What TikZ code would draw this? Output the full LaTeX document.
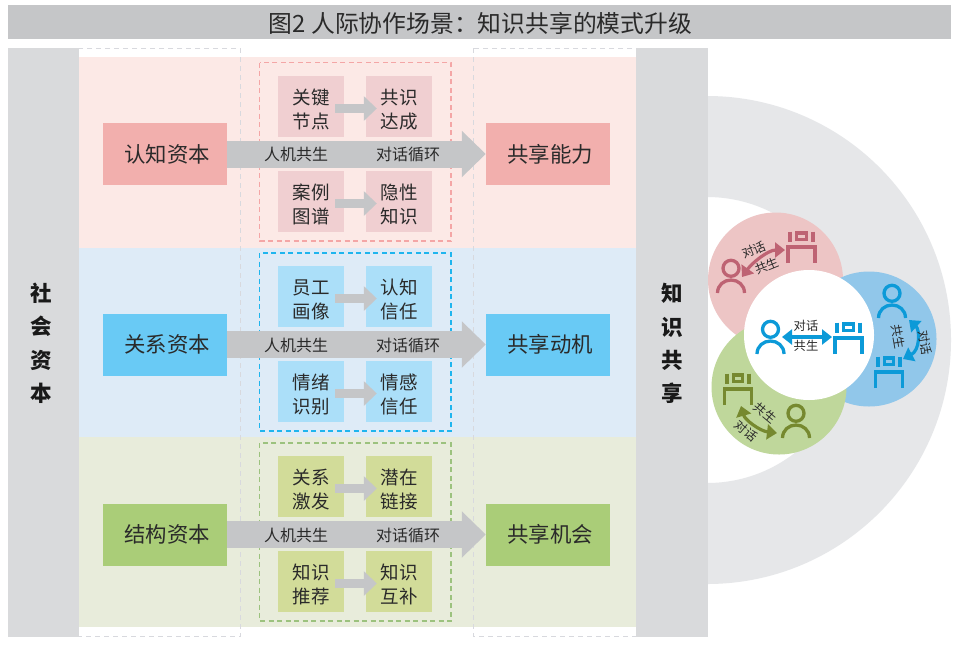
\documentclass[tikz,border=0pt]{standalone}
\usepackage{fontspec}
\setmainfont{Noto Sans CJK SC}
\usetikzlibrary{arrows.meta,calc}
\definecolor{txt}{HTML}{2A2A2A}
\definecolor{grayside}{HTML}{D9DADC}
\definecolor{graybar}{HTML}{C5C6C8}
\definecolor{ringc}{HTML}{E6E7E9}
\definecolor{framegray}{HTML}{D8D9DE}
\definecolor{rowr}{HTML}{FCE9E6}
\definecolor{rowb}{HTML}{DEEBF7}
\definecolor{rowg}{HTML}{E8ECDB}
\definecolor{capr}{HTML}{F2AFAD}
\definecolor{capb}{HTML}{69CAF5}
\definecolor{capg}{HTML}{AACD78}
\definecolor{smr}{HTML}{F0CFD1}
\definecolor{smb}{HTML}{ABDFF9}
\definecolor{smg}{HTML}{D2DC99}
\definecolor{edgered}{HTML}{F4A6A6}
\definecolor{edgeblue}{HTML}{1FB5EE}
\definecolor{edgegreen}{HTML}{9CC27E}
\definecolor{cirr}{HTML}{EDC5C5}
\definecolor{cirb}{HTML}{91C7EA}
\definecolor{cirg}{HTML}{BFD79B}
\definecolor{icr}{HTML}{BE6373}
\definecolor{icb}{HTML}{0C9AD8}
\definecolor{icg}{HTML}{76892F}
\newcommand{\captxt}[1]{\hspace*{4pt}\raisebox{-1.5pt}{#1}}
\newcommand{\twolines}[2]{\rule{0pt}{21.5pt}#1\\#2}
\tikzset{
  capbox/.style={minimum width=124pt,minimum height=62pt,inner sep=0pt,text=txt,font=\fontsize{21.4}{24}\selectfont},
  smbox/.style={minimum width=66pt,minimum height=61pt,inner sep=0pt,text=txt,align=center,font=\fontsize{18.5}{23.5}\selectfont},
  bigarrow/.style={draw=graybar,line width=27pt,-{Triangle[length=24pt,width=45pt]}},
  smarrow/.style={draw=graybar,line width=9pt,-{Triangle[length=13pt,width=24pt]}},
  arrowtxt/.style={inner sep=0pt,text=txt,font=\fontsize{16}{18}\selectfont},
  dashbox/.style={line width=1.1pt,dash pattern=on 5pt off 3.5pt},
  outerdash/.style={draw=framegray,line width=1pt,dash pattern=on 5pt off 4pt},
  sidetxt/.style={inner sep=0pt,text=black!90,font=\fontsize{21.5}{24}\selectfont\bfseries},
  iconline/.style={line width=3.3pt},
  tinytxt/.style={inner sep=0pt,text=txt,font=\fontsize{12.3}{13}\selectfont},
  dbl/.style={line width=3.2pt,{Triangle[length=10pt,width=15pt]}-{Triangle[length=10pt,width=15pt]}},
  pics/person/.style={code={
    \draw[iconline] (0,-24.7) circle (8);
    \draw[iconline] (-13.5,0) .. controls (-13.5,-8) and (-7,-13) .. (0,-13) .. controls (7,-13) and (13.5,-8) .. (13.5,0);
  }},
  pics/robot/.style={code={
    \draw[iconline] (-13.5,0) -- (-13.5,-16) -- (13.5,-16) -- (13.5,0);
    \draw[iconline] (-4.7,-30) rectangle (4.7,-23.7);
    \draw[line width=4pt] (-11.3,-31.5) -- (-11.3,-21.5);
    \draw[line width=4pt] (11.3,-31.5) -- (11.3,-21.5);
  }},
}
\begin{document}
\begin{tikzpicture}[x=1pt,y=-1pt]
\useasboundingbox (0,0) rectangle (960,649);
\fill[white] (0,0) rectangle (960,649);
% title
\fill[graybar] (8,5) rectangle (951,39);
\node[inner sep=0pt,text=txt,font=\fontsize{23.8}{26}\selectfont] (title) at (480.5,23) {图2 人际协作场景：知识共享的模式升级};
% ring
\begin{scope}
\clip (707,80) rectangle (960,600);
\fill[ringc,even odd rule] (707,340) circle (244) (707,340) circle (143);
\end{scope}
% rows
\fill[rowr] (77,57) rectangle (636,248);
\fill[rowb] (77,248) rectangle (636,437);
\fill[rowg] (77,437) rectangle (636,627);
% outer dashed frames
\draw[outerdash] (8,48) rectangle (240.5,636);
\draw[outerdash] (473,48) rectangle (707,636);
% side bars
\fill[grayside] (7.5,47.5) rectangle (79,636.5);
\fill[grayside] (636,47.5) rectangle (707.5,636.5);
\node[sidetxt] (s1) at (41,293) {社};
\node[sidetxt] (s2) at (41,326) {会};
\node[sidetxt] (s3) at (41,360) {资};
\node[sidetxt] (s4) at (41,393) {本};
\node[sidetxt] (k1) at (672,293) {知};
\node[sidetxt] (k2) at (672,327) {识};
\node[sidetxt] (k3) at (672,360) {共};
\node[sidetxt] (k4) at (672,393) {享};
% inner dashed
\draw[dashbox,draw=edgered] (259.5,62.5) rectangle (451,241);
\draw[dashbox,draw=edgeblue] (259.5,253) rectangle (451,431);
\draw[dashbox,draw=edgegreen] (259.5,443) rectangle (451,621);
% row 1
\node[capbox,fill=capr] (a1) at (165,154) {\captxt{认知资本}};
\node[capbox,fill=capr] (b1) at (548,154) {\captxt{共享能力}};
\node[smbox,fill=smr] (a1u) at (311,106.5) {\twolines{关键}{节点}};
\node[smbox,fill=smr] (b1u) at (399,106.5) {\twolines{共识}{达成}};
\node[smbox,fill=smr] (a1d) at (311,201.5) {\twolines{案例}{图谱}};
\node[smbox,fill=smr] (b1d) at (399,201.5) {\twolines{隐性}{知识}};
% row 2
\node[capbox,fill=capb] (a2) at (165,344.5) {\captxt{关系资本}};
\node[capbox,fill=capb] (b2) at (548,344.5) {\captxt{共享动机}};
\node[smbox,fill=smb] (a2u) at (311,296.5) {\twolines{员工}{画像}};
\node[smbox,fill=smb] (b2u) at (399,296.5) {\twolines{认知}{信任}};
\node[smbox,fill=smb] (a2d) at (311,391.5) {\twolines{情绪}{识别}};
\node[smbox,fill=smb] (b2d) at (399,391.5) {\twolines{情感}{信任}};
% row 3
\node[capbox,fill=capg] (a3) at (165,534.5) {\captxt{结构资本}};
\node[capbox,fill=capg] (b3) at (548,534.5) {\captxt{共享机会}};
\node[smbox,fill=smg] (a3u) at (311,486.5) {\twolines{关系}{激发}};
\node[smbox,fill=smg] (b3u) at (399,486.5) {\twolines{潜在}{链接}};
\node[smbox,fill=smg] (a3d) at (311,581.5) {\twolines{知识}{推荐}};
\node[smbox,fill=smg] (b3d) at (399,581.5) {\twolines{知识}{互补}};
% arrows
\foreach \r in {1,2,3}{
  \draw[bigarrow] (a\r.east) -- (b\r.west);
  \node[arrowtxt] at ($(a\r.east)+(69,0.8)$) {人机共生};
  \node[arrowtxt] at ($(a\r.east)+(181,0.8)$) {对话循环};
  \draw[smarrow] ([xshift=-9pt,yshift=-2pt]a\r u.east) -- ([xshift=11pt,yshift=-2pt]b\r u.west);
  \draw[smarrow] ([xshift=-9pt,yshift=-2pt]a\r d.east) -- ([xshift=11pt,yshift=-2pt]b\r d.west);
}
% circles
\fill[cirr] (775.5,280) circle (67.5);
\fill[cirb] (869,339) circle (67.5);
\fill[cirg] (779,387) circle (67.5);
\fill[white] (809,335) circle (65);
% icons
\pic[color=icb] at (770.5,354) {person};
\pic[color=icb] at (848.5,354) {robot};
\pic[color=icr] at (731,293) {person};
\pic[color=icr] at (801.5,263) {robot};
\pic[color=icb] at (892,318) {person};
\pic[color=icb] at (889,388) {robot};
\pic[color=icg] at (738,405) {robot};
\pic[color=icg] at (796,438) {person};
% two-way connectors
\coordinate (c0a) at (782,337); \coordinate (c0b) at (832,337);
\draw[dbl,icb] (c0a) -- (c0b);
\coordinate (c1a) at (742,277); \coordinate (c1b) at (785,250);
\draw[dbl,icr] (c1a) .. controls (752,263) and (768,250) .. (c1b);
\coordinate (c2a) at (909,320); \coordinate (c2b) at (903,359);
\draw[dbl,icb] (c2a) .. controls (920,330) and (920,350) .. (c2b);
\coordinate (c3a) at (741,406); \coordinate (c3b) at (777,433);
\draw[dbl,icg] (c3a) .. controls (745,420) and (760,431) .. (c3b);
% labels
\node[tinytxt] at (806,326) {对话};
\node[tinytxt] at (806,346) {共生};
\node[tinytxt,rotate=22] at (754,250) {对话};
\node[tinytxt,rotate=22] at (767,266) {共生};
\node[tinytxt,rotate=-80] at (898,337) {共生};
\node[tinytxt,rotate=-80] at (925,343) {对话};
\node[tinytxt,rotate=-40] at (765,413) {共生};
\node[tinytxt,rotate=-40] at (746,431) {对话};
\end{tikzpicture}
\end{document}
